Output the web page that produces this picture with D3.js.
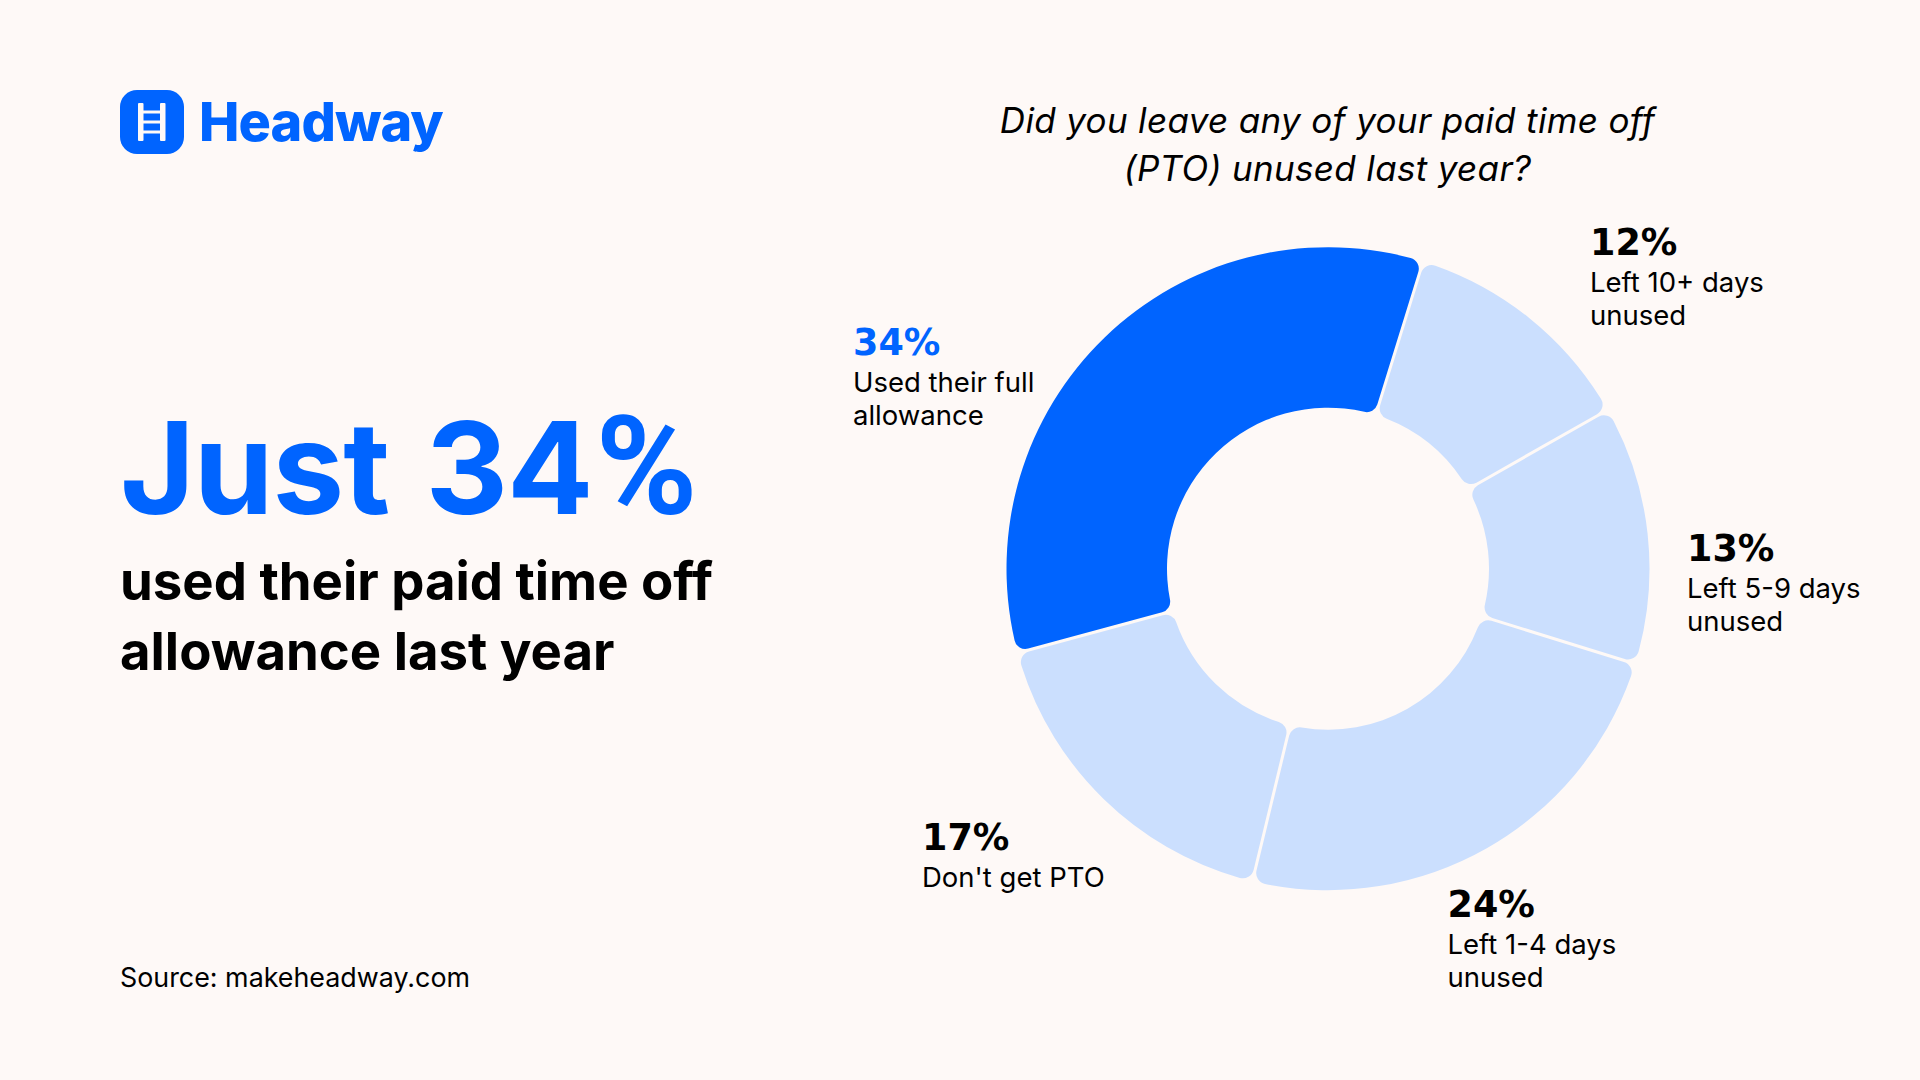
<!DOCTYPE html>
<html>
<head>
<meta charset="utf-8">
<script src="https://cdnjs.cloudflare.com/ajax/libs/d3/7.8.5/d3.min.js"></script>
<style>
html, body { margin: 0; padding: 0; background: #FEF9F7; }
svg { display: block; }
text { font-family: Inter, sans-serif; fill: #000; }
</style>
</head>
<body>
<script>
// Survey answers, in clockwise order starting from the highlighted slice
const answers = ["Used their full allowance", "Left 10+ days unused", "Left 5-9 days unused", "Left 1-4 days unused", "Don't get PTO"];
const shares = [34, 12, 13, 24, 17];
const labelLines = [["Used their full", "allowance"], ["Left 10+ days", "unused"], ["Left 5-9 days", "unused"], ["Left 1-4 days", "unused"], ["Don't get PTO"]];
const titleLines = ["Did you leave any of your paid time off", "(PTO) unused last year?"];
const headlineLines = ["used their paid time off", "allowance last year"];

const BLUE = "#0064FF", PALE = "#CBDFFE", PAPER = "#FEF9F7";
const width = 1920, height = 1080;
const cx = 1328, cy = 568.7, outer = 321.5, inner = 161;
const labelAnchors = [[853, 354.7], [1590, 254.7], [1687, 560.7], [1447.5, 917.2], [922, 850.2]];

const svg = d3.select("body").append("svg").attr("width", width).attr("height", height);

// Logo mark: rounded tile with a small ladder
const logo = svg.append("g");
logo.append("rect").attr("x", 120).attr("y", 90).attr("width", 64).attr("height", 64).attr("rx", 17).attr("fill", BLUE);
[138, 160].forEach(x => logo.append("rect").attr("x", x).attr("y", 103).attr("width", 5.5).attr("height", 38).attr("rx", 1).attr("fill", PAPER));
[112, 122, 132].forEach(y => logo.append("rect").attr("x", 140).attr("y", y - 1.5).attr("width", 22).attr("height", 3).attr("fill", PAPER));
svg.append("text").attr("x", 199).attr("y", 141).attr("font-size", 54).attr("font-weight", 800)
  .style("fill", BLUE).attr("letter-spacing", -0.9).text("Headway");

// Left-hand headline block; the percent sign uses a narrower cut than the digits
const big = svg.append("text").attr("x", 120).attr("y", 514).attr("font-size", 128).attr("font-weight", 700)
  .style("fill", BLUE).attr("letter-spacing", -1).attr("word-spacing", 7);
big.append("tspan").text("Just 34");
big.append("tspan").attr("dx", 3).attr("font-size", 138).style("font-family", "Roboto").text("%");
svg.selectAll(".headline").data(headlineLines).join("text").attr("class", "headline")
  .attr("x", 120).attr("y", (d, i) => 599.5 + i * 70.5)
  .attr("font-size", 52.7).attr("font-weight", 700).text(d => d);
svg.append("text").attr("x", 120).attr("y", 987).attr("font-size", 26.85).text("Source: makeheadway.com");

// Question above the ring
svg.selectAll(".question").data(titleLines).join("text").attr("class", "question")
  .attr("x", cx - 0.5).attr("y", (d, i) => 133 + i * 47.5)
  .attr("text-anchor", "middle").attr("font-size", 35).attr("font-style", "italic")
  .attr("letter-spacing", 0.34).text(d => d);

// Donut, rotated so the highlighted slice ends just past twelve o'clock
const startDeg = -105.2;
const pie = d3.pie().sort(null)
  .startAngle(startDeg * Math.PI / 180)
  .endAngle((startDeg + 360) * Math.PI / 180);
const arc = d3.arc().innerRadius(inner).outerRadius(outer).cornerRadius(11)
  .padAngle(0.0125).padRadius(outer * 0.75);
svg.append("g").attr("transform", `translate(${cx},${cy})`)
  .selectAll("path").data(pie(shares)).join("path")
  .attr("d", arc)
  .attr("fill", (d, i) => i === 0 ? BLUE : PALE)
  .append("title").text((d, i) => answers[i]);

// Value and description next to each slice
const labels = svg.selectAll(".slice-label").data(shares).join("g").attr("class", "slice-label")
  .attr("transform", (d, i) => `translate(${labelAnchors[i][0]},${labelAnchors[i][1]})`);
labels.append("text").style("font-family", "'DejaVu Sans'")
  .attr("font-size", 36.5).attr("font-weight", 700)
  .style("fill", (d, i) => i === 0 ? BLUE : "#000").text(d => d + "%");
labels.each(function(d, i) {
  d3.select(this).selectAll(".line").data(labelLines[i]).join("text").attr("class", "line")
    .attr("y", (l, j) => 37 + j * 33).attr("font-size", 27.5).text(l => l);
});
</script>
</body>
</html>
